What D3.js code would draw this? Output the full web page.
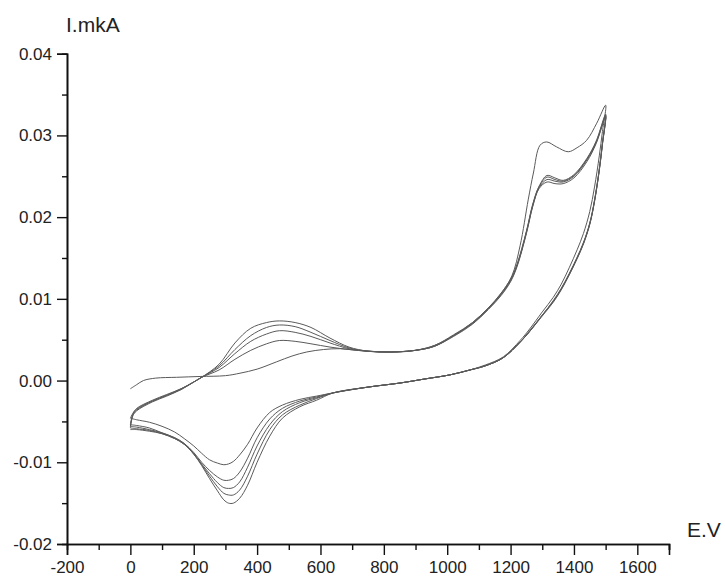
<!DOCTYPE html>
<html>
<head>
<meta charset="utf-8">
<script src="https://cdn.jsdelivr.net/npm/d3@7"></script>
<style>
  html, body { margin: 0; padding: 0; background: #fff; }
  svg { display: block; }
  text { font-family: "Liberation Sans", Arial, sans-serif; fill: #222; }
</style>
</head>
<body>
<svg id="chart" width="725" height="581"></svg>
<script>
// Potential grids (mV) for the anodic (forward) and cathodic (reverse) sweeps
const forwardE = [0, 8, 20, 70, 115, 160, 199, 225, 280, 330, 380, 430, 470, 520, 570, 630, 690, 750, 820, 900, 960, 1020, 1080, 1130, 1170, 1200, 1220, 1250, 1270, 1290, 1315, 1340, 1366, 1400, 1441, 1470, 1500];
const reverseE = [1500, 1490, 1480, 1465, 1450, 1430, 1410, 1385, 1360, 1335, 1300, 1260, 1230, 1177, 1120, 1072, 1009, 930, 851, 750, 641, 588, 535, 480, 440, 400, 370, 345, 325, 310, 295, 275, 250, 225, 200, 170, 140, 100, 60, 20, 0];

// First forward sweep, on its own potential grid
const firstForwardE = [0, 20, 41, 80, 146, 220, 300, 346, 400, 462, 510, 557, 610, 662, 714, 780, 850, 900, 960, 1020, 1080, 1130, 1167, 1204, 1230, 1256, 1272, 1293, 1314, 1345, 1382, 1410, 1440, 1472, 1500];
const firstForwardI = [-0.0010, -0.0005, 0.0000, 0.0003, 0.0004, 0.0005, 0.0006, 0.0009, 0.0014, 0.0023, 0.0030, 0.0035, 0.0038, 0.0039, 0.0037, 0.0035, 0.0035, 0.0037, 0.0043, 0.0055, 0.0071, 0.0089, 0.0105, 0.0128, 0.0165, 0.0222, 0.0254, 0.0288, 0.0292, 0.0286, 0.0280, 0.0285, 0.0294, 0.0315, 0.0337];

// Current (mA) on the forward sweeps of cycles 2-5
const forwardI2 = [-0.0046, -0.0040, -0.0034, -0.0024, -0.0017, -0.0010, -0.0002, 0.0004, 0.0013, 0.0026, 0.0037, 0.0045, 0.0049, 0.0048, 0.0045, 0.0041, 0.0038, 0.0036, 0.0035, 0.0037, 0.0042, 0.0054, 0.0069, 0.0087, 0.0104, 0.0121, 0.0139, 0.0180, 0.0213, 0.0235, 0.0243, 0.0241, 0.0241, 0.0248, 0.0268, 0.0290, 0.0323];
const forwardI3 = [-0.0054, -0.0041, -0.0035, -0.0025, -0.0018, -0.0010, -0.0002, 0.0004, 0.0016, 0.0033, 0.0048, 0.0057, 0.0061, 0.0059, 0.0054, 0.0046, 0.0039, 0.0036, 0.0035, 0.0037, 0.0042, 0.0055, 0.0070, 0.0088, 0.0105, 0.0122, 0.0140, 0.0181, 0.0214, 0.0236, 0.0246, 0.0244, 0.0243, 0.0250, 0.0270, 0.0291, 0.0324];
const forwardI4 = [-0.0056, -0.0042, -0.0036, -0.0025, -0.0018, -0.0011, -0.0002, 0.0004, 0.0018, 0.0038, 0.0055, 0.0065, 0.0068, 0.0066, 0.0059, 0.0049, 0.0040, 0.0036, 0.0035, 0.0037, 0.0042, 0.0055, 0.0070, 0.0088, 0.0106, 0.0123, 0.0141, 0.0182, 0.0215, 0.0237, 0.0249, 0.0246, 0.0244, 0.0251, 0.0271, 0.0292, 0.0325];
const forwardI5 = [-0.0058, -0.0043, -0.0037, -0.0026, -0.0019, -0.0011, -0.0002, 0.0004, 0.0020, 0.0046, 0.0064, 0.0071, 0.0073, 0.0071, 0.0065, 0.0052, 0.0041, 0.0036, 0.0035, 0.0037, 0.0043, 0.0056, 0.0071, 0.0089, 0.0107, 0.0124, 0.0142, 0.0183, 0.0216, 0.0238, 0.0251, 0.0248, 0.0245, 0.0252, 0.0272, 0.0293, 0.0326];

// Current (mA) on the reverse sweeps of cycles 1-5
const reverseI1 = [0.0337, 0.0305, 0.0275, 0.0237, 0.0207, 0.0180, 0.0160, 0.0138, 0.0118, 0.0102, 0.0084, 0.0063, 0.0049, 0.0029, 0.0019, 0.0013, 0.0007, 0.0002, -0.0003, -0.0008, -0.0015, -0.0019, -0.0023, -0.0030, -0.0039, -0.0058, -0.0078, -0.0091, -0.0099, -0.0102, -0.0103, -0.0101, -0.0097, -0.0089, -0.0080, -0.0071, -0.0063, -0.0056, -0.0051, -0.0048, -0.0046];
const reverseI2 = [0.0323, 0.0289, 0.0257, 0.0219, 0.0191, 0.0167, 0.0149, 0.0129, 0.0111, 0.0096, 0.0079, 0.0060, 0.0047, 0.0028, 0.0018, 0.0013, 0.0007, 0.0002, -0.0003, -0.0008, -0.0015, -0.0020, -0.0025, -0.0034, -0.0047, -0.0070, -0.0095, -0.0112, -0.0120, -0.0122, -0.0122, -0.0118, -0.0110, -0.0100, -0.0088, -0.0077, -0.0070, -0.0064, -0.0058, -0.0055, -0.0054];
const reverseI3 = [0.0324, 0.0290, 0.0258, 0.0220, 0.0192, 0.0168, 0.0150, 0.0130, 0.0112, 0.0097, 0.0080, 0.0060, 0.0047, 0.0028, 0.0018, 0.0013, 0.0007, 0.0002, -0.0003, -0.0008, -0.0015, -0.0021, -0.0027, -0.0038, -0.0054, -0.0080, -0.0106, -0.0124, -0.0131, -0.0132, -0.0131, -0.0125, -0.0114, -0.0102, -0.0089, -0.0077, -0.0070, -0.0064, -0.0060, -0.0057, -0.0056];
const reverseI4 = [0.0325, 0.0290, 0.0258, 0.0220, 0.0192, 0.0168, 0.0150, 0.0130, 0.0112, 0.0097, 0.0080, 0.0060, 0.0047, 0.0028, 0.0018, 0.0013, 0.0007, 0.0002, -0.0003, -0.0008, -0.0015, -0.0022, -0.0030, -0.0042, -0.0060, -0.0090, -0.0117, -0.0134, -0.0140, -0.0140, -0.0138, -0.0130, -0.0117, -0.0103, -0.0090, -0.0078, -0.0071, -0.0065, -0.0061, -0.0059, -0.0058];
const reverseI5 = [0.0326, 0.0291, 0.0259, 0.0221, 0.0193, 0.0169, 0.0151, 0.0131, 0.0113, 0.0098, 0.0080, 0.0061, 0.0047, 0.0028, 0.0018, 0.0013, 0.0007, 0.0002, -0.0003, -0.0008, -0.0015, -0.0024, -0.0032, -0.0046, -0.0068, -0.0100, -0.0128, -0.0144, -0.0150, -0.0150, -0.0146, -0.0135, -0.0120, -0.0104, -0.0090, -0.0078, -0.0071, -0.0065, -0.0062, -0.0060, -0.0060];

// Axis ticks
const xMajorTicks = [-200, 0, 200, 400, 600, 800, 1000, 1200, 1400, 1600];
const xMinorTicks = [-100, 100, 300, 500, 700, 900, 1100, 1300, 1500, 1700];
const yMajorTicks = [-0.02, -0.01, 0.00, 0.01, 0.02, 0.03, 0.04];
const yMinorTicks = [-0.015, -0.005, 0.005, 0.015, 0.025, 0.035];

const svg = d3.select("#chart");
const x = d3.scaleLinear().domain([-200, 1700]).range([67, 669]);
const y = d3.scaleLinear().domain([-0.02, 0.04]).range([544, 53.7]);

const zip = (es, is) => es.map((e, i) => [e, is[i]]);
const cycles = [
  zip(firstForwardE, firstForwardI).concat(zip(reverseE, reverseI1).slice(1)),
  zip(forwardE, forwardI2).concat(zip(reverseE, reverseI2).slice(1)),
  zip(forwardE, forwardI3).concat(zip(reverseE, reverseI3).slice(1)),
  zip(forwardE, forwardI4).concat(zip(reverseE, reverseI4).slice(1)),
  zip(forwardE, forwardI5).concat(zip(reverseE, reverseI5).slice(1))
];

const line = d3.line()
  .x(d => x(d[0]))
  .y(d => y(d[1]))
  .curve(d3.curveCatmullRom.alpha(0.5));

svg.append("g")
  .selectAll("path")
  .data(cycles)
  .join("path")
  .attr("d", line)
  .attr("fill", "none")
  .attr("stroke", "#5a5a5a")
  .attr("stroke-width", 1)
  .attr("stroke-linejoin", "round");

// Plain hyphen-minus for negative tick labels
const hyphen = f => d => f(d).replace("\u2212", "-");

// Axes: minor ticks first, then labelled major ticks
function styleAxis(g) {
  g.selectAll("path.domain").attr("stroke", "#111").attr("stroke-width", 1.6);
  g.selectAll(".tick line").attr("stroke", "#111").attr("stroke-width", 1.4);
  g.selectAll("text").attr("font-family", '"Liberation Sans", Arial, sans-serif')
    .attr("font-size", 17).attr("fill", "#222");
}

svg.append("g")
  .attr("transform", `translate(0,${y(-0.02)})`)
  .call(d3.axisBottom(x).tickValues(xMinorTicks).tickSize(6).tickFormat(""))
  .call(styleAxis);
svg.append("g")
  .attr("transform", `translate(0,${y(-0.02)})`)
  .call(d3.axisBottom(x).tickValues(xMajorTicks).tickSize(11).tickPadding(6).tickFormat(hyphen(d3.format("d"))))
  .call(styleAxis);

svg.append("g")
  .attr("transform", `translate(${x(-200)},0)`)
  .call(d3.axisLeft(y).tickValues(yMinorTicks).tickSize(5).tickFormat(""))
  .call(styleAxis);
svg.append("g")
  .attr("transform", `translate(${x(-200)},0)`)
  .call(d3.axisLeft(y).tickValues(yMajorTicks).tickSize(10).tickPadding(5).tickFormat(hyphen(d3.format(".2f"))))
  .call(styleAxis);

svg.append("text")
  .attr("x", 66).attr("y", 32)
  .attr("font-size", 21)
  .text("I.mkA");

svg.append("text")
  .attr("x", 687).attr("y", 537)
  .attr("font-size", 21)
  .text("E.V");
</script>
</body>
</html>
